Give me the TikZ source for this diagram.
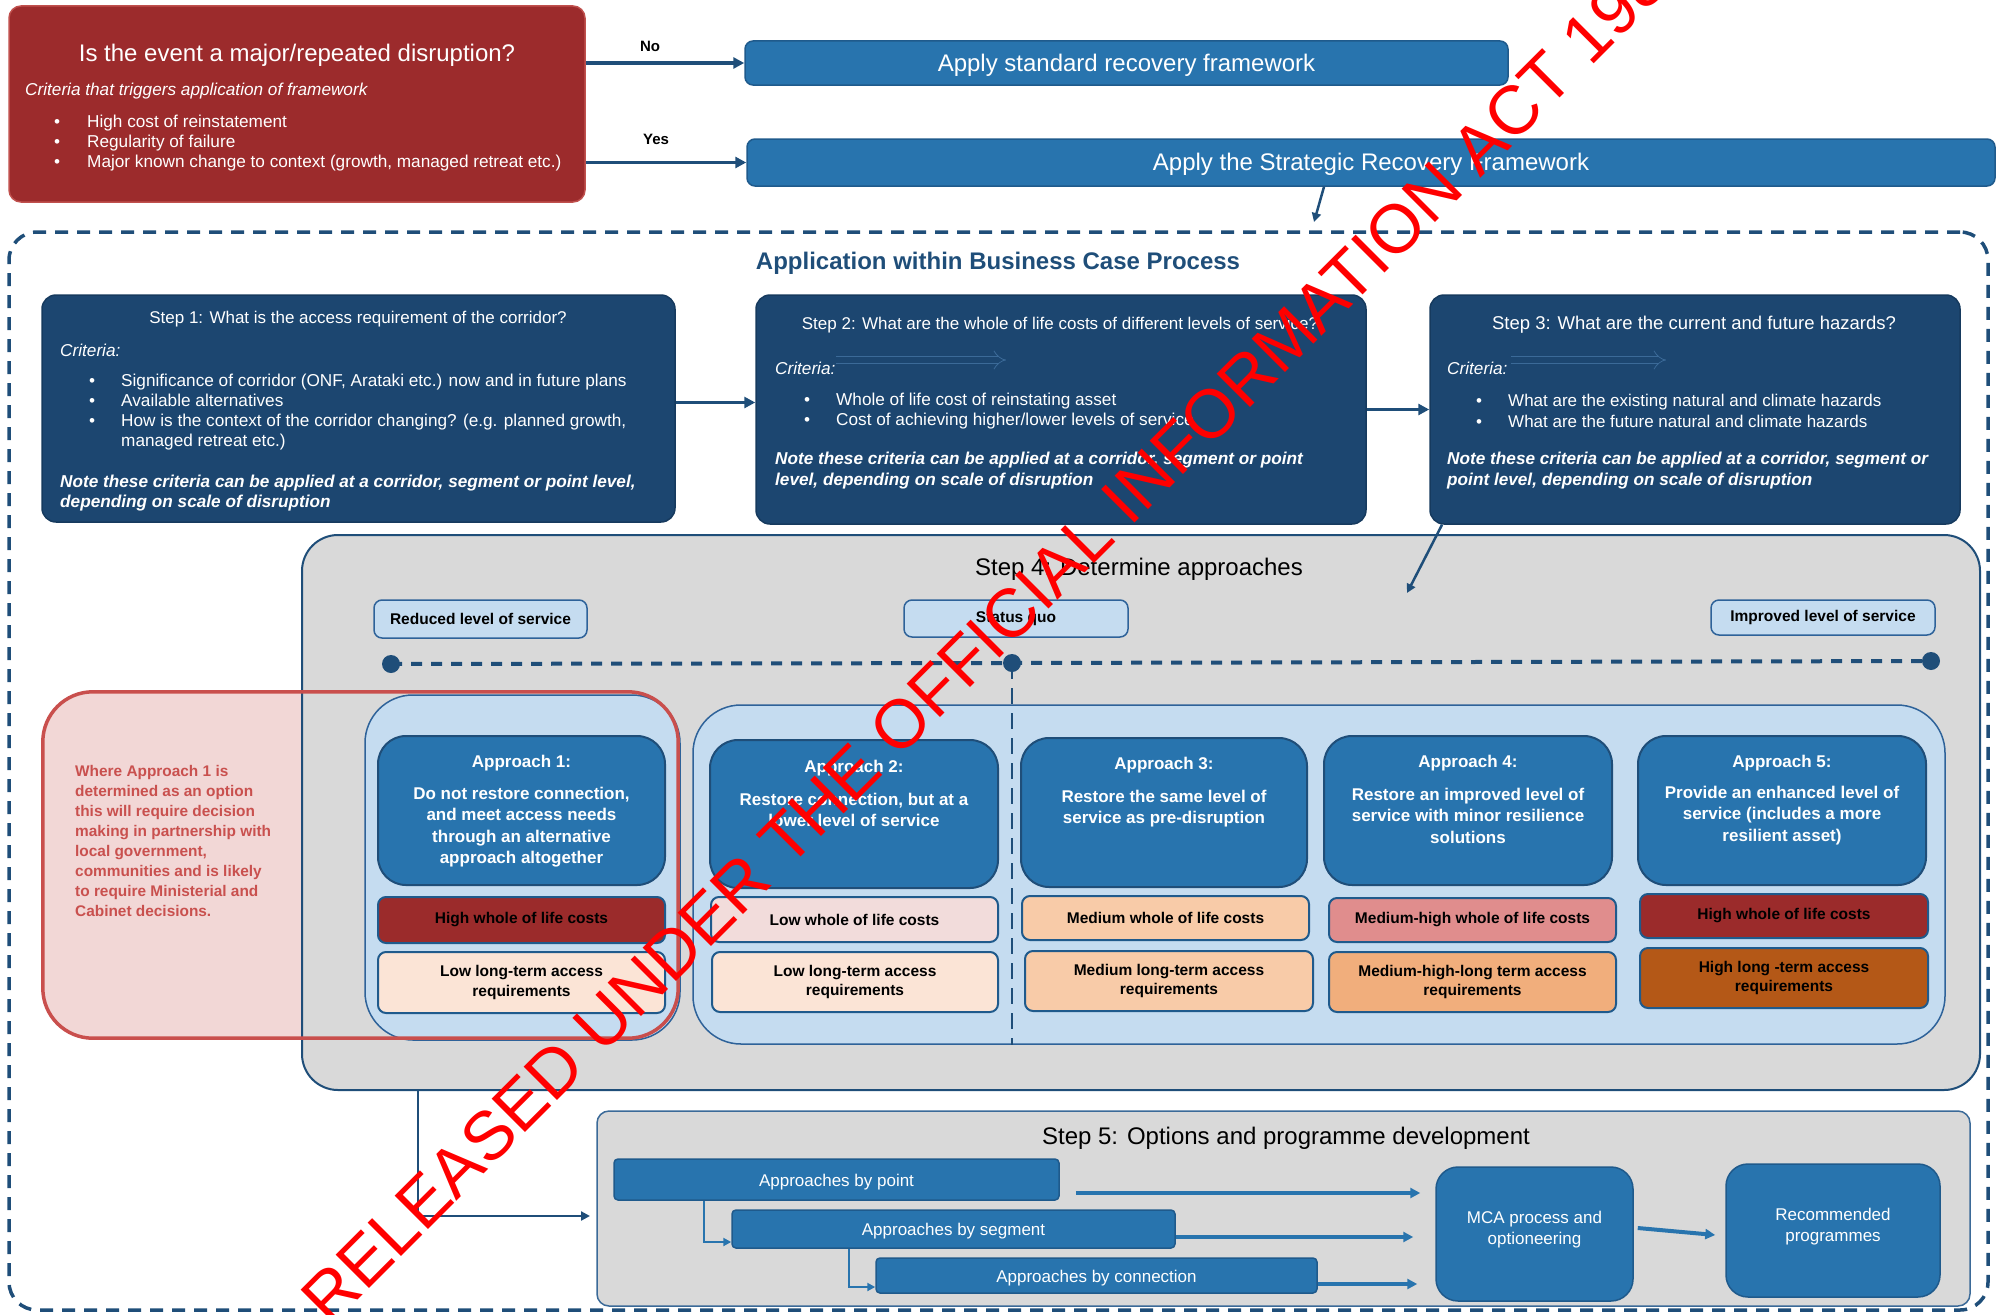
\documentclass[tikz,border=0pt]{standalone}
\usepackage{fontspec}
\setmainfont{Liberation Sans}
\usetikzlibrary{arrows.meta,calc,fit}
\definecolor{qred}{HTML}{9C2B2C}
\definecolor{qredline}{HTML}{C0504D}
\definecolor{mblue}{HTML}{2874AE}
\definecolor{mblueline}{HTML}{1F5A8C}
\definecolor{navy}{HTML}{1C4670}
\definecolor{navyline}{HTML}{163A5E}
\definecolor{dblue}{HTML}{1F4E79}
\definecolor{gbg}{HTML}{D9D9D9}
\definecolor{lblue}{HTML}{C5DCF0}
\definecolor{lblueline}{HTML}{2E6299}
\definecolor{pinkbg}{HTML}{F2D7D6}
\definecolor{redline}{HTML}{C94F4D}
\definecolor{redtxt}{HTML}{C9504E}
\definecolor{cDarkRed}{HTML}{9B2B2B}
\definecolor{cLightPink}{HTML}{F2DCDB}
\definecolor{cPeach}{HTML}{F8CBA8}
\definecolor{cRose}{HTML}{E08D8D}
\definecolor{cLightPeach}{HTML}{FBE4D6}
\definecolor{cOrange}{HTML}{F1AE7C}
\definecolor{cBrown}{HTML}{B45817}
\definecolor{faint}{HTML}{3B6A98}
\newcommand\fsz[2]{\fontsize{#1}{#2}\selectfont}
\newcommand\blt[1]{\makebox[#1pt][l]{\textbullet}}
\begin{document}
\begin{tikzpicture}[x=1pt,y=-1pt,
  area/.style={fit={#1}, inner sep=0pt},
  wtxt/.style={text=white, inner sep=0pt},
  btxt/.style={text=black, inner sep=0pt},
  apply/.style={rounded corners=8pt, fill=mblue, draw=mblueline, line width=1.5pt},
  stepbox/.style={rounded corners=14pt, fill=navy, draw=navyline, line width=1.5pt},
  lvl/.style={rounded corners=8pt, fill=lblue, draw=lblueline, line width=1.5pt},
  lvltxt/.style={btxt, font=\fsz{15.5}{18}\bfseries},
  cont/.style={rounded corners=48pt, fill=lblue, draw=lblueline, line width=1.5pt},
  appr/.style={rounded corners=28pt, fill=mblue, draw=dblue, line width=2pt},
  cost/.style={rounded corners=8pt, draw=mblueline, line width=2pt},
  costtxt/.style={btxt, font=\fsz{15.5}{19.5}\bfseries, align=center},
  s5box/.style={rounded corners=4pt, fill=mblue, draw=mblueline, line width=1.5pt},
  s5txt/.style={wtxt, font=\fsz{17}{21}, align=center},
  darrow/.style={draw=dblue, line width=3.5pt, -{Triangle[length=11pt,width=11pt]}},
  tarrow/.style={draw=dblue, line width=2.5pt, -{Triangle[length=9pt,width=9pt]}},
  barrow/.style={draw=mblue, line width=4pt, -{Triangle[length=10pt,width=10pt]}},
  elbow/.style={draw=mblue, line width=2.5pt, -{Triangle[length=8pt,width=8pt]}},
  faintarr/.style={draw=faint, line width=0.8pt, double=navy, double distance=6pt, -{Implies}},
  dot/.style={circle, fill=dblue, inner sep=0pt, minimum size=18pt}
]
\useasboundingbox (0,0) rectangle (1996,1314);

% ---------- top decision ----------
\node[area={(9,6)(585,202)}, rounded corners=12pt, fill=qred, draw=qredline, line width=1.5pt] (q) {};
\node[wtxt, font=\fsz{24}{29}] (qt) at (297,55.5) {Is the event a major/repeated disruption?};
\node[wtxt, font=\fsz{17.2}{20}\itshape, anchor=west] (qc) at (25,91.5) {Criteria that triggers application of framework};
\node[wtxt, font=\fsz{17.2}{19.7}, anchor=west, align=left] (qb) at (54,143) {\blt{33}High cost of reinstatement\\ \blt{33}Regularity of failure\\ \blt{33}Major known change to context (growth, managed retreat etc.)};

\node[area={(745,41)(1508,85)}, apply] (std) {};
\node[wtxt, font=\fsz{24}{29}] (stdt) at ($(std)+(0,2.5)$) {Apply standard recovery framework};
\node[area={(747,139)(1995,186)}, apply] (srf) {};
\node[wtxt, font=\fsz{24}{29}] (srft) at ($(srf)+(0,2)$) {Apply the Strategic Recovery Framework};

\node[btxt, font=\fsz{15}{18}\bfseries] (no) at (650,46) {No};
\node[btxt, font=\fsz{15}{18}\bfseries] (yes) at (656,139) {Yes};
\draw[darrow] (q.east |- std.west) -- (std.west);
\draw[darrow] (q.east |- srf.west) -- (srf.west);

% ---------- business case area ----------
\node[area={(9,232)(1988,1310)}, draw=dblue, line width=3.5pt, dash pattern=on 13pt off 9pt, rounded corners=28pt] (bcp) {};
\coordinate (bcpin) at (1314,222);
\draw[tarrow] ([xshift=-47pt]srf.south) -- (bcpin);
\node[font=\fsz{24}{28}\bfseries, text=dblue, inner sep=0pt] (bcpt) at (998,263.5) {Application within Business Case Process};

% Step 1
\node[area={(42,295)(675,522)}, stepbox] (s1) {};
\node[wtxt, font=\fsz{17}{20}] (s1t) at (358,319.5) {Step 1: What is the access requirement of the corridor?};
\node[wtxt, font=\fsz{17.2}{20}\itshape, anchor=west] (s1c) at (60,350) {Criteria:};
\node[wtxt, font=\fsz{17.2}{20}, anchor=west, align=left] (s1b) at (89,412.5) {\blt{32}Significance of corridor (ONF, Arataki etc.) now and in future plans\\ \blt{32}Available alternatives\\ \blt{32}How is the context of the corridor changing? (e.g. planned growth,\\ \hspace*{32pt}managed retreat etc.)};
\node[wtxt, font=\fsz{17.2}{19.7}\bfseries\itshape, anchor=west, align=left] (s1n) at (60,493) {Note these criteria can be applied at a corridor, segment or point level,\\ depending on scale of disruption};

% Step 2
\node[area={(756,295)(1366,524)}, stepbox] (s2) {};
\node[wtxt, font=\fsz{17}{20}] (s2t) at (1060,325) {Step 2: What are the whole of life costs of different levels of service?};
\node[wtxt, font=\fsz{17.2}{20}\itshape, anchor=west] (s2c) at (775,368) {Criteria:};
\draw[faintarr] (836,360) -- (1006,360);
\node[wtxt, font=\fsz{17.2}{20.5}, anchor=west, align=left] (s2b) at (804,411) {\blt{32}Whole of life cost of reinstating asset\\ \blt{32}Cost of achieving higher/lower levels of service};
\node[wtxt, font=\fsz{17.2}{20.5}\bfseries\itshape, anchor=west, align=left] (s2n) at (775,470.5) {Note these criteria can be applied at a corridor, segment or point\\ level, depending on scale of disruption};

% Step 3
\node[area={(1430,295)(1960,524)}, stepbox] (s3) {};
\node[wtxt, font=\fsz{18.5}{22}] (s3t) at (1694,325) {Step 3: What are the current and future hazards?};
\node[wtxt, font=\fsz{17.2}{20}\itshape, anchor=west] (s3c) at (1447,368) {Criteria:};
\draw[faintarr] (1511,360) -- (1666,360);
\node[wtxt, font=\fsz{17}{20.5}, anchor=west, align=left] (s3b) at (1476,411) {\blt{32}What are the existing natural and climate hazards\\ \blt{32}What are the future natural and climate hazards};
\node[wtxt, font=\fsz{17.2}{20.5}\bfseries\itshape, anchor=west, align=left] (s3n) at (1447,470.5) {Note these criteria can be applied at a corridor, segment or\\ point level, depending on scale of disruption};

\draw[darrow] ([yshift=6pt]s1.east) -- ([yshift=6pt]s1.east -| s2.west);
\draw[darrow] (s2.east) -- (s2.east -| s3.west);

% ---------- Step 4 ----------
\node[area={(43,692)(678,1038)}, rounded corners=50pt, fill=pinkbg] (rn) {};
\node[area={(302,535)(1980,1090)}, rounded corners=36pt, fill=gbg, draw=dblue, line width=2pt] (s4) {};
\coordinate (s4in) at (1407,593);
\draw[tarrow] ([xshift=-253pt]s3.south) -- (s4in);
\node[btxt, font=\fsz{24}{29}] (s4t) at (1139,569.5) {Step 4: Determine approaches};

\node[area={(374,600)(587,638)}, lvl] (lr) {};
\node[lvltxt] (lrt) at (lr) {Reduced level of service};
\node[area={(904,600)(1128,637)}, lvl] (ls) {};
\node[lvltxt] (lst) at (ls) {Status quo};
\node[area={(1711,600)(1935,635)}, lvl] (li) {};
\node[lvltxt] (lit) at (li) {Improved level of service};

\node[dot] (d1) at (391,664) {};
\node[dot] (d2) at (1012,663) {};
\node[dot] (d3) at (1931,661) {};
\draw[draw=dblue, line width=4pt, dash pattern=on 11pt off 9pt] (d1.center) -- (d2.center) -- (d3.center);

\node[area={(365,695)(680,1040)}, cont] (c1) {};
\node[area={(693,705)(1945,1044)}, cont] (c2) {};
\draw[draw=dblue, line width=2.5pt, dash pattern=on 16pt off 9pt] (d2.center) -- (d2.center |- c2.south);

% approach boxes
\node[area={(378,736)(665,885)}, appr] (a1) {};
\node[area={(710,740)(998,888)}, appr] (a2) {};
\node[area={(1021,738)(1307,887)}, appr] (a3) {};
\node[area={(1324,736)(1612,885)}, appr] (a4) {};
\node[area={(1638,736)(1926,885)}, appr] (a5) {};

\node[wtxt, font=\fsz{17}{21}\bfseries] (h1) at (521.5,763) {Approach 1:};
\node[wtxt, font=\fsz{17}{21}\bfseries] (h2) at (854,768) {Approach 2:};
\node[wtxt, font=\fsz{17}{21}\bfseries] (h3) at (1164,765) {Approach 3:};
\node[wtxt, font=\fsz{17}{21}\bfseries] (h4) at (1468,763) {Approach 4:};
\node[wtxt, font=\fsz{17}{21}\bfseries] (h5) at (1782,763) {Approach 5:};

\node[wtxt, font=\fsz{17}{21.5}\bfseries, align=center] (b1) at (521.5,827) {Do not restore connection,\\ and meet access needs\\ through an alternative\\ approach altogether};
\node[wtxt, font=\fsz{17}{21.5}\bfseries, align=center] (b2) at (854,810) {Restore connection, but at a\\ lower level of service};
\node[wtxt, font=\fsz{17}{21.5}\bfseries, align=center] (b3) at (1164,808.5) {Restore the same level of\\ service as pre-disruption};
\node[wtxt, font=\fsz{17}{21.5}\bfseries, align=center] (b4) at (1468,815.5) {Restore an improved level of\\ service with minor resilience\\ solutions};
\node[wtxt, font=\fsz{17}{21.5}\bfseries, align=center] (b5) at (1782,815.5) {Provide an enhanced level of\\ service (includes a more\\ resilient asset)};

% cost boxes
\node[area={(378,897)(665,943)}, cost, fill=cDarkRed] (k1) {};
\node[costtxt] (k1t) at (k1) {High whole of life costs};
\node[area={(711,897)(998,942)}, cost, fill=cLightPink] (k2) {};
\node[costtxt] (k2t) at (k2) {Low whole of life costs};
\node[area={(1022,896)(1309,940)}, cost, fill=cPeach] (k3) {};
\node[costtxt] (k3t) at (k3) {Medium whole of life costs};
\node[area={(1329,898)(1616,942)}, cost, fill=cRose] (k4) {};
\node[costtxt] (k4t) at (k4) {Medium-high whole of life costs};
\node[area={(1640,894)(1928,938)}, cost, fill=cDarkRed] (k5) {};
\node[costtxt] (k5t) at (k5) {High whole of life costs};

\node[area={(378,952)(665,1013)}, cost, fill=cLightPeach] (l1) {};
\node[costtxt] (l1t) at (l1) {Low long-term access\\ requirements};
\node[area={(712,952)(998,1012)}, cost, fill=cLightPeach] (l2) {};
\node[costtxt] (l2t) at (l2) {Low long-term access\\ requirements};
\node[area={(1025,951)(1313,1011)}, cost, fill=cPeach] (l3) {};
\node[costtxt] (l3t) at (l3) {Medium long-term access\\ requirements};
\node[area={(1329,952)(1616,1012)}, cost, fill=cOrange] (l4) {};
\node[costtxt] (l4t) at (l4) {Medium-high-long term access\\ requirements};
\node[area={(1640,948)(1928,1008)}, cost, fill=cBrown] (l5) {};
\node[costtxt] (l5t) at (l5) {High long -term access\\ requirements};

% red note overlay
\draw[draw=redline, line width=3.5pt, rounded corners=50pt] (rn.north west) rectangle (rn.south east);
\node[inner sep=0pt, text=redtxt, font=\fsz{15.4}{19.9}\bfseries, anchor=west, align=left] (rnt) at (75,841) {Where Approach 1 is\\ determined as an option\\ this will require decision\\ making in partnership with\\ local government,\\ communities and is likely\\ to require Ministerial and\\ Cabinet decisions.};

% ---------- Step 5 ----------
\node[area={(597,1111)(1970,1306)}, rounded corners=12pt, fill=gbg, draw=faint, line width=1.5pt] (s5) {};
\node[btxt, font=\fsz{24}{29}] (s5t) at (1286,1138.5) {Step 5: Options and programme development};
\coordinate (s5in) at (590,1216);
\draw[tarrow] ([xshift=-723pt]s4.south) |- (s5in);

\node[area={(614,1159)(1059,1200)}, s5box] (pt) {};
\node[s5txt] (ptt) at ($(pt)+(0,2.5)$) {Approaches by point};
\node[area={(732,1210)(1175,1248)}, s5box] (sg) {};
\node[s5txt] (sgt) at ($(sg)+(0,2.5)$) {Approaches by segment};
\node[area={(876,1258)(1317,1293)}, s5box] (cn) {};
\node[s5txt] (cnt) at ($(cn)+(0,3)$) {Approaches by connection};
\node[area={(1436,1167)(1633,1301)}, s5box, rounded corners=22pt] (mca) {};
\node[s5txt] (mcat) at ($(mca)+(0,-4)$) {MCA process and\\ optioneering};
\node[area={(1726,1164)(1940,1297)}, s5box, rounded corners=22pt] (rec) {};
\node[s5txt] (rect) at ($(rec)+(0,-4)$) {Recommended\\ programmes};

\draw[barrow] ($(pt.east)+(16,13.5)$) -- ($(mca.west)+(-15,-41)$);
\draw[barrow] ($(sg.east)+(0,8)$) -- ($(mca.west)+(-22,3)$);
\draw[barrow] ($(cn.east)+(0,8.5)$) -- ($(mca.west)+(-18,50)$);
\draw[barrow] ($(mca.east)+(4,-6)$) -- ($(rec.west)+(-10,4.5)$);
\draw[elbow] ($(pt.south)+(-132.5,0)$) |- ($(sg.west)+(0,13)$);
\draw[elbow] ($(sg.south)+(-104.5,0)$) |- ($(cn.west)+(0,11.5)$);

% ---------- watermark ----------
\begin{scope}
\clip (0,0) rectangle (1996,1314);
\node[text=red, font=\fsz{68.6}{80}, rotate=45, anchor=base west, inner sep=0pt] (wm) at (330,1328) {RELEASED UNDER THE OFFICIAL INFORMATION ACT 1982};
\end{scope}
\end{tikzpicture}
\end{document}
